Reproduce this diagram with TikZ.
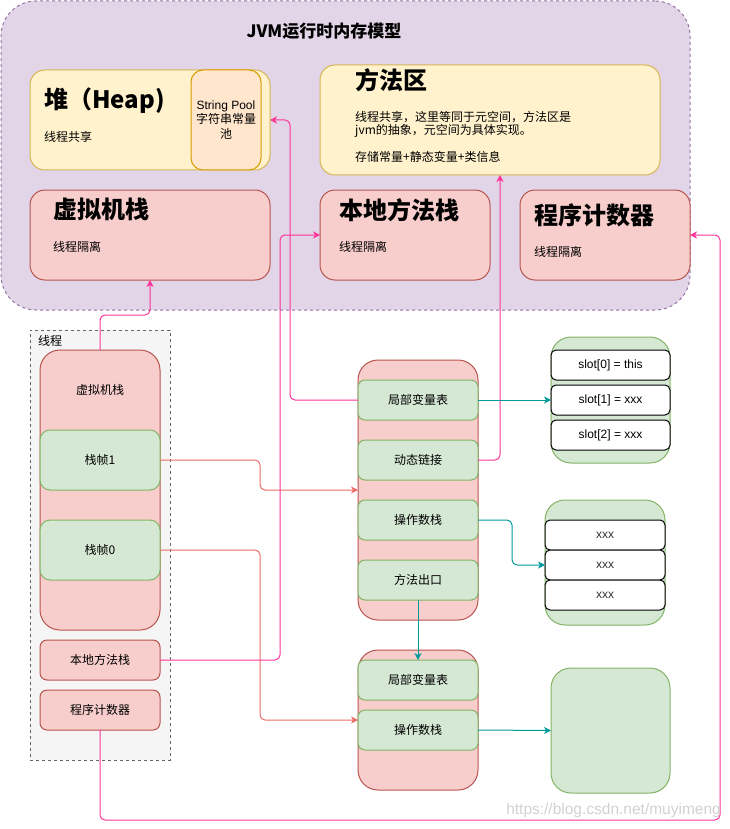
\documentclass[tikz,border=0pt]{standalone}
\usepackage{fontspec}
\setmainfont{Noto Sans CJK SC}
\newfontfamily\latinfont{Liberation Sans}
\usetikzlibrary{arrows.meta, calc}
\definecolor{jvmfill}{HTML}{E1D5E7}
\definecolor{jvmline}{HTML}{9673A6}
\definecolor{heapfill}{HTML}{FFF2CC}
\definecolor{heapline}{HTML}{D6B656}
\definecolor{poolfill}{HTML}{FFE6CC}
\definecolor{poolline}{HTML}{D79B00}
\definecolor{redfill}{HTML}{F8CECC}
\definecolor{redline}{HTML}{B85450}
\definecolor{greenfill}{HTML}{D5E8D4}
\definecolor{greenline}{HTML}{82B366}
\definecolor{threadfill}{HTML}{F5F5F5}
\definecolor{threadline}{HTML}{666666}
\definecolor{mypink}{HTML}{FF3399}
\definecolor{myred}{HTML}{EA6B66}
\definecolor{myteal}{HTML}{009999}

\begin{document}
\begin{tikzpicture}[x=1pt, y=-1pt,
    base/.style={draw, line width=1pt, inner sep=0pt, outer sep=0pt, rounded corners=7pt,
                 font=\fontsize{12}{14.5}\selectfont, align=center},
    wh/.style 2 args={minimum width=#1pt, minimum height=#2pt},
    redbox/.style={base, fill=redfill, draw=redline},
    greenbox/.style={base, fill=greenfill, draw=greenline},
    yellowbox/.style={base, fill=heapfill, draw=heapline},
    slotbox/.style={base, fill=white, draw=black, rounded corners=5pt, wh={119}{30}, font=\latinfont\fontsize{12}{14}\selectfont},
    title/.style={font=\bfseries\fontsize{24}{28}\selectfont, inner sep=0pt, anchor=west},
    body/.style={font=\fontsize{12}{13.5}\selectfont, inner sep=0pt, align=left, anchor=west},
    arr/.style={-{Stealth[length=7pt,width=7pt,inset=2pt]}, line width=1pt, rounded corners=5pt},
    pinkarr/.style={arr, draw=mypink},
    redarr/.style={arr, draw=myred},
    tealarr/.style={arr, draw=myteal}]
    \useasboundingbox (0,0) rectangle (729,829);

    % runtime memory model
    \node[base, fill=jvmfill, draw=jvmline, dash pattern=on 3pt off 3pt, rounded corners=35pt, wh={689}{309}] (jvm) at (345.5,155.5) {};
    \node[font=\bfseries\fontsize{17}{20}\selectfont] (jvmtitle) at (324,31) {JVM运行时内存模型};

    \node[yellowbox, wh={240}{100}, rounded corners=15pt] (heap) at (150,120) {};
    \node[base, fill=poolfill, draw=poolline, wh={70}{100}, rounded corners=12pt] (pool) at (226,120) {{\latinfont String Pool}\\字符串常量\\池};
    \node[title] at (44,101) {堆（Heap)};
    \node[body] at (44,137) {线程共享};

    \node[yellowbox, wh={340}{110}, rounded corners=15pt] (mth) at (490,120) {};
    \node[title] at (355,80) {方法区};
    \node[body, anchor=north west] at (355,111) {线程共享，这里等同于元空间，方法区是\\jvm的抽象，元空间为具体实现。\\[13pt]存储常量+静态变量+类信息};

    \node[redbox, wh={240}{90}, rounded corners=15pt] (vmbig) at (150,235) {};
    \node[title] at (53,209) {虚拟机栈};
    \node[body] at (53,247) {线程隔离};

    \node[redbox, wh={170}{90}, rounded corners=15pt] (nmbig) at (405,235) {};
    \node[title] at (339,210) {本地方法栈};
    \node[body] at (339,247) {线程隔离};

    \node[redbox, wh={170}{90}, rounded corners=15pt] (pcbig) at (605,235) {};
    \node[title] at (534,215) {程序计数器};
    \node[body] at (534,252) {线程隔离};

    % thread
    \node[draw=threadline, fill=threadfill, line width=1pt, dash pattern=on 3pt off 3pt, inner sep=0pt, wh={140}{430}] (thread) at (100,545) {};
    \node[body] at (38,341) {线程};
    \node[redbox, wh={120}{280}, rounded corners=20pt] (vmstack) at (100,490) {};
    \node[base, draw=none, fill=none] at (100,390) {虚拟机栈};
    \node[greenbox, wh={120}{60}, rounded corners=10pt] (frame1) at (100,460) {栈帧1};
    \node[greenbox, wh={120}{60}, rounded corners=10pt] (frame0) at (100,550) {栈帧0};
    \node[redbox, wh={120}{40}] (nmstack) at (100,660) {本地方法栈};
    \node[redbox, wh={120}{40}] (pcount) at (100,710) {程序计数器};

    % stack frames
    \node[redbox, wh={120}{260}, rounded corners=20pt] (fr1) at (418,490) {};
    \foreach \name/\y/\txt in {lv1/400/局部变量表, dl/460/动态链接, os1/520/操作数栈, mo/580/方法出口}
        \node[greenbox, wh={120}{40}] (\name) at (418,\y) {\txt};
    \node[redbox, wh={120}{140}, rounded corners=20pt] (fr0) at (418,720) {};
    \foreach \name/\y/\txt in {lv0/680/局部变量表, os0/730/操作数栈}
        \node[greenbox, wh={120}{40}] (\name) at (418,\y) {\txt};

    % slots and operands
    \node[greenbox, wh={119}{126}, rounded corners=20pt] (slots) at (610.5,400) {};
    \foreach \i/\y/\txt in {0/365/this, 1/400/xxx, 2/435/xxx}
        \node[slotbox] (slot\i) at (610.5,\y) {slot[\i] = \txt};
    \node[greenbox, wh={120}{125}, rounded corners=20pt] (opers) at (605,562.5) {};
    \foreach \i/\y in {1/535, 2/565, 3/595}
        \node[slotbox, wh={120}{30}, text=black!80] (xx\i) at (605,\y) {xxx};
    \node[greenbox, wh={119}{125}, rounded corners=20pt] (opers0) at (610.5,730.5) {};

    % connectors
    \draw[redarr] (frame1.east) -- ++(100,0) |- (fr1.west);
    \draw[redarr] (frame0.east) -- ++(100,0) |- (fr0.west);
    \draw[pinkarr] (lv1.west) -- ++(-68,0) |- (heap.east);
    \draw[pinkarr] (nmstack.east) -- ++(120,0) |- (nmbig.west);
    \draw[pinkarr] (dl.east) -| ([xshift=10pt]mth.south);
    \draw[pinkarr] (vmstack.north) -- ++(0,-35) -| (vmbig.south);
    \coordinate (pcturn) at (720,820);
    \draw[pinkarr] (pcount.south) |- (pcturn) |- (pcbig.east);
    \draw[tealarr] (lv1.east) -- (slot1.west);
    \draw[tealarr] (os1.east) -- ++(34,0) |- (xx2.west);
    \draw[tealarr] (mo.south) -- (lv0.north);
    \draw[tealarr] (os0.east) -- (opers0.west);

    \node[font=\latinfont\fontsize{15.5}{18}\selectfont, text=black!18, anchor=east, inner sep=0pt] (mark) at (721,810) {https://blog.csdn.net/muyimeng};
\end{tikzpicture}
\end{document}
